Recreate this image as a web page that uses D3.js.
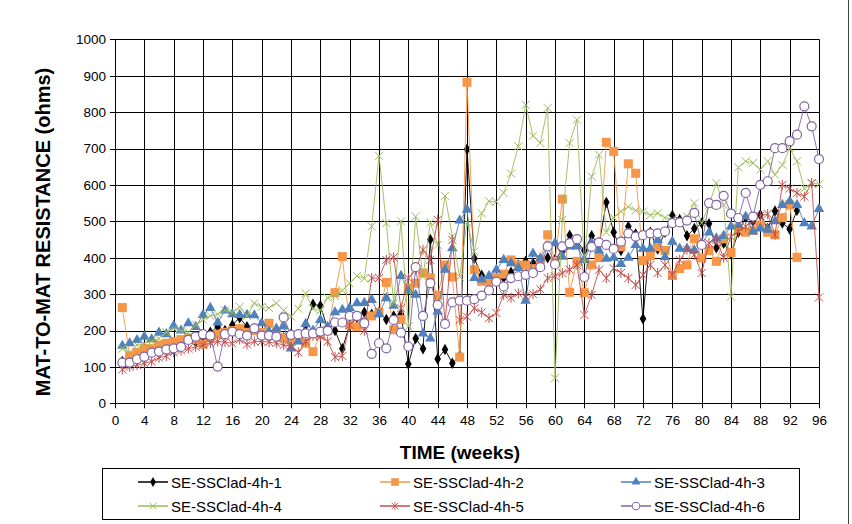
<!DOCTYPE html>
<html><head><meta charset="utf-8">
<script src="https://cdn.jsdelivr.net/npm/d3@7"></script>
<style>body{margin:0;background:#fff}svg{display:block}text{font-family:"Liberation Sans",Arial,sans-serif}</style>
</head><body><svg id="c" width="852" height="524"></svg>
<script>
const seriesNames = ["SE-SSClad-4h-1","SE-SSClad-4h-2","SE-SSClad-4h-3","SE-SSClad-4h-4","SE-SSClad-4h-5","SE-SSClad-4h-6"];
const xTicks = d3.range(0, 97, 4);
const yTicks = d3.range(0, 1001, 100);
const s1 = [115,125,135,140,145,150,160,165,170,175,170,180,195,210,200,215,235,210,205,190,195,185,180,190,180,215,272,268,205,200,150,215,235,250,245,250,230,240,245,108,178,150,450,122,148,110,130,698,398,352,340,335,345,360,380,390,385,395,400,395,420,462,445,420,460,435,552,470,420,486,465,232,470,424,470,516,505,460,480,495,493,427,440,410,470,510,500,518,480,528,495,479,530];
const s2 = [263,130,140,150,150,160,165,170,175,180,175,163,180,190,195,200,205,195,200,195,220,190,180,170,175,165,142,190,200,304,403,215,210,225,240,250,332,202,230,317,330,358,345,297,380,347,127,882,367,335,335,345,355,394,380,380,370,395,463,390,561,305,390,304,380,400,717,692,430,658,632,392,405,430,420,351,370,380,452,399,420,390,452,414,480,470,475,490,470,463,510,545,401];
const s3 = [158,165,174,183,176,194,190,213,200,220,210,243,262,222,255,245,243,243,242,220,197,205,211,151,170,218,200,229,210,250,257,262,275,276,284,245,289,268,350,309,298,192,178,252,367,426,502,532,344,340,350,367,394,385,372,282,411,398,431,440,403,431,431,394,440,420,397,400,383,400,435,425,425,449,401,444,425,425,420,438,469,453,460,486,490,513,472,480,477,500,545,555,545,495,486,534];
const s4 = [150,140,160,165,170,178,195,205,200,195,215,230,240,245,255,250,265,240,275,265,262,275,255,238,260,302,260,255,290,295,310,330,350,343,486,680,495,275,500,211,513,348,497,435,570,458,348,497,417,522,555,554,578,631,706,820,735,715,811,69,504,715,779,386,623,683,470,510,527,540,530,527,517,522,510,506,500,513,550,495,545,605,545,293,648,665,660,642,665,628,655,701,665,590,605,602];
const s5 = [93,100,105,110,115,125,130,140,145,150,155,160,165,170,168,165,175,162,170,170,168,165,160,156,140,170,185,183,170,127,130,215,238,199,344,344,394,401,261,344,367,422,394,504,220,449,229,238,261,250,234,248,298,290,302,295,300,313,344,349,358,367,380,243,298,367,344,371,358,344,325,353,380,358,380,353,394,422,408,358,440,449,400,458,472,486,500,515,520,463,600,590,578,568,605,291];
const s6 = [112,112,121,128,139,142,148,151,155,174,183,190,186,101,190,197,190,186,206,186,186,183,236,188,190,192,192,197,199,222,222,240,240,220,136,165,151,229,194,156,374,240,330,270,218,277,282,282,286,296,310,334,321,344,349,353,358,374,431,382,431,440,451,347,430,442,435,424,444,467,458,462,467,467,472,495,497,502,523,435,550,545,570,521,509,578,513,600,610,701,701,720,738,816,761,671];
const allSeries = [s1,s2,s3,s4,s5,s6];
const colors = ["#000000","#F79646","#4F81BD","#9BBB59","#C0504D","#8064A2"];
const shapes = ["diamond","square","triangle","x","star","circle"];

const svg = d3.select("#c");
const M = {l:115, r:819, t:39.3, b:403.3};
const x = d3.scaleLinear().domain([0,96]).range([M.l, M.r]);
const y = d3.scaleLinear().domain([0,1000]).range([M.b, M.t]);
const FONT = "'Liberation Sans',Arial,sans-serif";

// right chart border
svg.append("line").attr("x1",848.5).attr("x2",848.5).attr("y1",0).attr("y2",524).attr("stroke","#404040");

// gridlines
const g = svg.append("g");
g.selectAll("line.h").data(yTicks).join("line")
  .attr("x1",M.l-5).attr("x2",M.r).attr("y1",d=>Math.round(y(d))+0.5).attr("y2",d=>Math.round(y(d))+0.5)
  .attr("stroke","#000").attr("stroke-width",1);
g.selectAll("line.v").data(xTicks).join("line")
  .attr("y1",M.t).attr("y2",M.b+5).attr("x1",d=>Math.round(x(d))+0.5).attr("x2",d=>Math.round(x(d))+0.5)
  .attr("stroke","#000").attr("stroke-width",1);

const yAxis = d3.axisLeft(y).tickValues(yTicks).tickFormat(d3.format("d")).tickSize(0).tickPadding(9);
const ya = svg.append("g").attr("transform",`translate(${M.l},0)`).call(yAxis);
ya.select(".domain").remove();
ya.selectAll("text").attr("font-size","13.5px").attr("fill","#000").style("font-family",FONT);
const xAxis = d3.axisBottom(x).tickValues(xTicks).tickFormat(d3.format("d")).tickSize(0).tickPadding(12);
const xa = svg.append("g").attr("transform",`translate(0,${M.b})`).call(xAxis);
xa.select(".domain").remove();
xa.selectAll("text").attr("font-size","13.5px").attr("fill","#000").style("font-family",FONT);

svg.append("text").attr("x",460).attr("y",459).attr("text-anchor","middle")
  .attr("font-size","19px").attr("font-weight","bold").text("TIME (weeks)");
svg.append("text").attr("transform","translate(50,232) rotate(-90)").attr("text-anchor","middle")
  .attr("font-size","20px").attr("font-weight","bold").text("MAT-TO-MAT RESISTANCE (ohms)");

function marker(sel, shape, color, cx, cy, sc){
  sc = sc || 1;
  const gg = sel.append("g").attr("transform",`translate(${cx},${cy}) scale(${sc})`);
  if(shape==="diamond") gg.append("path").attr("d",d3.symbol(d3.symbolDiamond,38)()).attr("fill",color);
  else if(shape==="square") gg.append("rect").attr("x",-4.5).attr("y",-4.5).attr("width",9).attr("height",9).attr("fill",color);
  else if(shape==="triangle") gg.append("path").attr("d",d3.symbol(d3.symbolTriangle,48)()).attr("fill",color);
  else if(shape==="x") gg.append("path").attr("d","M-4,-4L4,4M-4,4L4,-4").attr("stroke",color).attr("stroke-width",1).attr("fill","none");
  else if(shape==="star") gg.append("path").attr("d","M-4,-4L4,4M-4,4L4,-4M0,-5L0,5").attr("stroke",color).attr("stroke-width",1).attr("fill","none");
  else if(shape==="circle") gg.append("circle").attr("r",4.5).attr("fill","#fff").attr("stroke",color).attr("stroke-width",1.2);
}

const line = d3.line().x((d,i)=>x(i+1)).y(d=>y(d));
allSeries.forEach((s,k)=>{
  const sg = svg.append("g");
  sg.append("path").datum(s).attr("d",line).attr("fill","none").attr("stroke",colors[k]).attr("stroke-width",1).attr("stroke-opacity",0.9);
  s.forEach((v,i)=>marker(sg, shapes[k], colors[k], x(i+1), y(v)));
});

// legend
const lg = svg.append("g");
lg.append("rect").attr("x",102.5).attr("y",468.5).attr("width",697).attr("height",51).attr("fill","#fff").attr("stroke","#000");
const colX = [138, 380, 621], rowY = [482, 506];
seriesNames.forEach((n,k)=>{
  const cx = colX[k%3], cy = rowY[Math.floor(k/3)];
  lg.append("line").attr("x1",cx).attr("x2",cx+30).attr("y1",cy).attr("y2",cy).attr("stroke",colors[k]).attr("stroke-width",1.5);
  marker(lg, shapes[k], colors[k], cx+15, cy, 0.85);
  lg.append("text").attr("x",cx+33).attr("y",cy+5.5).attr("font-size","15px").text(n);
});
</script></body></html>
